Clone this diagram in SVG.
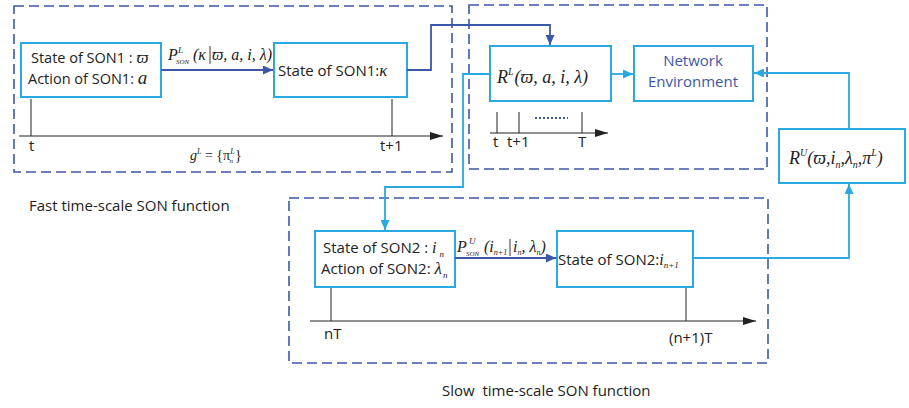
<svg xmlns="http://www.w3.org/2000/svg" width="909" height="408" viewBox="0 0 909 408">
<style>
.dash{fill:none;stroke:#3d57a8;stroke-width:1.6;stroke-dasharray:10,5}
.box{fill:#fff;stroke:#2aa9e0;stroke-width:2}
.s{font-family:"Open Sans","Liberation Sans",sans-serif;font-size:15px;fill:#222}
.m{font-family:"Liberation Serif","DejaVu Serif",serif;font-style:italic;fill:#222}
.ax{stroke:#222;stroke-width:1;fill:none}
.db{stroke:#3d57a8;stroke-width:1.8;fill:none}
.lb{stroke:#2aa9e0;stroke-width:1.8;fill:none}
.ne{fill:#3d57a8}
</style>
<defs>
<marker id="ak" markerUnits="userSpaceOnUse" markerWidth="14" markerHeight="8" refX="13" refY="4" orient="auto"><path d="M0,0 L13,4 L0,8 z" fill="#222"/></marker>
<marker id="ad" markerUnits="userSpaceOnUse" markerWidth="10" markerHeight="9" refX="10" refY="4.5" orient="auto"><path d="M0,0 L10,4.5 L0,9 z" fill="#3d57a8"/></marker>
<marker id="al" markerUnits="userSpaceOnUse" markerWidth="10" markerHeight="9" refX="10" refY="4.5" orient="auto"><path d="M0,0 L10,4.5 L0,9 z" fill="#2aa9e0"/></marker>
</defs>

<g id="fast-panel">
<rect class="dash" x="14" y="6" width="438" height="166"/>
<line class="ax" x1="19" y1="136" x2="443" y2="136" marker-end="url(#ak)"/>
<line class="ax" x1="31" y1="99" x2="31" y2="136"/>
<line class="ax" x1="392" y1="99" x2="392" y2="136"/>
<text class="s" x="29" y="151">t</text>
<text class="s" x="380" y="151">t+1</text>
<text class="m" x="190" y="160" font-size="14">g<tspan dy="-6" font-size="8">L</tspan><tspan dy="6" font-style="normal"> = {π</tspan><tspan dy="-6" font-size="8">L</tspan><tspan dx="-5" dy="9" font-size="7">n</tspan><tspan dx="2" dy="-3" font-style="normal">}</tspan></text>
</g>

<g id="son1-state-action">
<rect class="box" x="21" y="43" width="140" height="54"/>
<text class="s" x="31" y="63" style="font-size:14.5px">State of SON1 : <tspan class="m" font-size="17">ϖ</tspan></text>
<text class="s" x="28" y="84" style="font-size:14.5px">Action of SON1: <tspan class="m" font-size="19">a</tspan></text>
</g>

<g id="son1-next-state">
<rect class="box" x="274" y="43" width="133" height="54"/>
<text class="s" x="278" y="76">State of SON1:<tspan class="m" font-size="17">κ</tspan></text>
</g>

<g id="reward-panel">
<rect class="dash" x="469" y="5" width="298" height="164"/>
<line class="ax" x1="490" y1="133" x2="608" y2="133" marker-end="url(#ak)"/>
<line class="ax" x1="497" y1="112" x2="497" y2="133"/>
<line class="ax" x1="519" y1="112" x2="519" y2="133"/>
<line class="ax" x1="582" y1="112" x2="582" y2="133"/>
<line x1="535" y1="118" x2="568" y2="118" stroke="#3d57a8" stroke-width="2" stroke-dasharray="2,2"/>
<text class="s" x="493" y="147">t</text>
<text class="s" x="507" y="147">t+1</text>
<text class="s" x="578" y="147">T</text>
</g>

<g id="reward-lower">
<rect class="box" x="490" y="46" width="121" height="55"/>
<text class="m" x="497" y="83" font-size="18">R<tspan dy="-8" font-size="10">L</tspan><tspan dy="8" dx="1">(ϖ, a, i, λ)</tspan></text>
</g>

<g id="network-environment">
<rect class="box" x="634" y="46" width="119" height="55"/>
<text class="s ne" x="693" y="66" text-anchor="middle">Network</text>
<text class="s ne" x="693" y="87" text-anchor="middle">Environment</text>
</g>

<g id="reward-upper">
<rect class="box" x="779" y="129" width="126" height="54"/>
<text class="m" x="789" y="164" font-size="18">R<tspan dy="-8" font-size="10">U</tspan><tspan dy="8">(ϖ,i</tspan><tspan dy="4" font-size="10">n</tspan><tspan dy="-4">,λ</tspan><tspan dy="4" font-size="10">n</tspan><tspan dy="-4">,π</tspan><tspan dy="-8" font-size="10">L</tspan><tspan dy="8">)</tspan></text>
</g>

<g id="slow-panel">
<rect class="dash" x="289" y="198" width="479" height="165"/>
<line class="ax" x1="310" y1="321" x2="756" y2="321" marker-end="url(#ak)"/>
<line class="ax" x1="331" y1="287" x2="331" y2="321"/>
<line class="ax" x1="686" y1="287" x2="686" y2="321"/>
<text class="s" x="324" y="339">nT</text>
<text class="s" x="669" y="343">(n+1)T</text>
</g>

<g id="son2-state-action">
<rect class="box" x="315" y="231" width="140" height="56"/>
<text class="s" x="323" y="253">State of SON2 : <tspan class="m" font-size="16">i</tspan><tspan class="m" font-size="9" dx="3" dy="4">n</tspan></text>
<text class="s" x="321" y="274">Action of SON2: <tspan class="m" font-size="17">λ</tspan><tspan class="m" font-size="9" dx="1" dy="4">n</tspan></text>
</g>

<g id="son2-next-state">
<rect class="box" x="557" y="231" width="136" height="56"/>
<text class="s" x="558" y="265">State of SON2:<tspan class="m" font-size="16">i</tspan><tspan class="m" font-size="9" dy="3">n+1</tspan></text>
</g>

<g id="labels">
<text class="s" x="29" y="211">Fast time-scale SON function</text>
<text class="s" x="442" y="396">Slow&#160; time-scale SON function</text>
</g>

<g id="connectors">
<line class="db" x1="161" y1="70" x2="273" y2="70" marker-end="url(#ad)"/>
<text class="m" x="168" y="60" font-size="16">P</text>
<text class="m" x="178" y="53" font-size="9">L</text>
<text class="m" x="176" y="64" font-size="7">SON</text>
<text class="m" x="193" y="60" font-size="16">(κ</text>
<line x1="210" y1="46" x2="210" y2="64" stroke="#222" stroke-width="0.9"/>
<text class="m" x="212" y="60" font-size="16">ϖ, a, i, λ)</text>

<polyline class="db" points="407,70 431,70 431,25 550,25 550,45" marker-end="url(#ad)"/>
<line class="lb" x1="611" y1="74" x2="633" y2="74" marker-end="url(#al)"/>
<polyline class="lb" points="849,129 849,73 754,73" marker-end="url(#al)"/>
<polyline class="lb" points="490,74 463,74 463,187 385,187 385,230" marker-end="url(#al)"/>

<line class="db" x1="455" y1="258" x2="556" y2="258" marker-end="url(#ad)"/>
<text class="m" x="457" y="252" font-size="16">P</text>
<text class="m" x="469" y="244" font-size="9">U</text>
<text class="m" x="466" y="256" font-size="7">SON</text>
<text class="m" x="484" y="252" font-size="16">(i<tspan font-size="8" dy="3">n+1</tspan></text>
<line x1="510" y1="239" x2="510" y2="256" stroke="#222" stroke-width="0.9"/>
<text class="m" x="513" y="252" font-size="16">i<tspan font-size="8" dy="3">n</tspan><tspan dy="-3">, λ</tspan><tspan font-size="8" dy="3">n</tspan><tspan dy="-3">)</tspan></text>

<polyline class="lb" points="693,258 849,258 849,184" marker-end="url(#al)"/>
</g>
</svg>
